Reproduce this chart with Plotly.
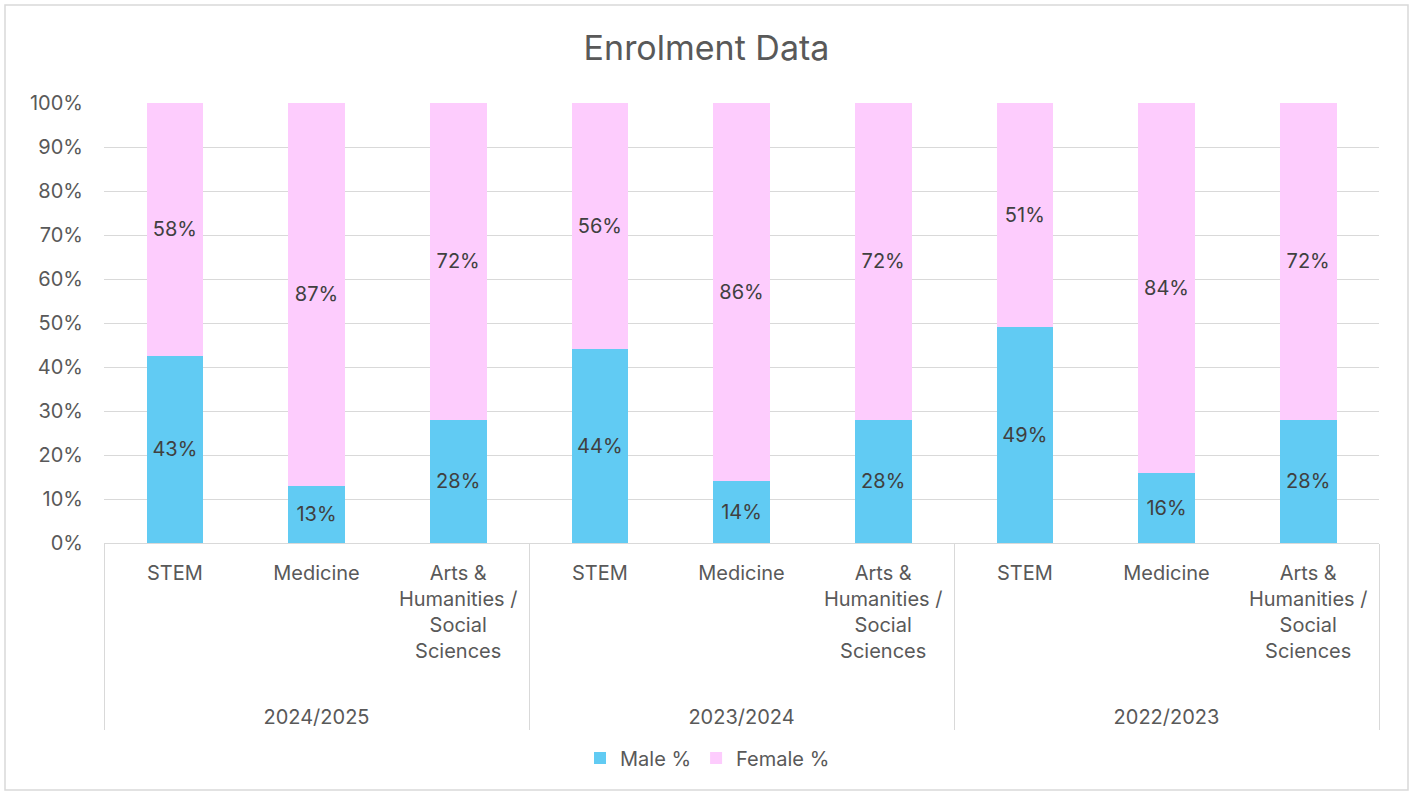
import plotly.graph_objects as go

years = ["2024/2025"] * 3 + ["2023/2024"] * 3 + ["2022/2023"] * 3
subjects = ["STEM", "Medicine", "Arts &<br>Humanities /<br>Social<br>Sciences"] * 3
male_pct = [43, 13, 28, 44, 14, 28, 49, 16, 28]
female_pct = [58, 87, 72, 56, 86, 72, 51, 84, 72]

# display labels for the outer (year) level, pushed down
year_labels = ["<br><br>" + y for y in years]

male_color = "#61CBF3"
female_color = "#FDCCFD"
text_color = "#404040"
axis_text = "#595959"
font_family = "Inter, 'Open Sans', sans-serif"
FS = 20

fig = go.Figure()
fig.add_trace(go.Bar(
    x=[year_labels, subjects], y=male_pct, name="Male %",
    marker=dict(color=male_color, line=dict(width=0)),
    text=[f"{v}%" for v in male_pct], textposition="inside",
    insidetextanchor="middle", textangle=0,
    textfont=dict(size=FS, color=text_color, family=font_family),
))
fig.add_trace(go.Bar(
    x=[year_labels, subjects], y=female_pct, name="Female %",
    marker=dict(color=female_color, line=dict(width=0)),
    text=[f"{v}%" for v in female_pct], textposition="inside",
    insidetextanchor="middle", textangle=0,
    textfont=dict(size=FS, color=text_color, family=font_family),
))

L, R, T, B = 104, 34, 103, 251
W, H = 1413, 794
pw, ph = W - L - R, H - T - B

fig.update_layout(
    width=W, height=H,
    barmode="stack", barnorm="percent", bargap=0.6,
    margin=dict(l=L, r=R, t=T, b=B, autoexpand=False),
    paper_bgcolor="white", plot_bgcolor="white",
    font=dict(family=font_family, color=axis_text, size=FS),
    title=dict(text="Enrolment Data", x=0.5, xanchor="center",
               y=1 - 48 / H, yanchor="middle",
               font=dict(size=34, color=axis_text, family=font_family)),
    legend=dict(orientation="h", x=0.5 - 34 / pw, xanchor="center",
                y=(T + ph - 758) / ph, yref="paper", yanchor="middle",
                traceorder="normal",
                font=dict(size=FS, color=axis_text, family=font_family),
                itemwidth=30, tracegroupgap=0),
    showlegend=True,
    xaxis=dict(type="multicategory", showgrid=False,
               showline=True, linecolor="#D9D9D9", linewidth=1,
               showdividers=True, dividercolor="#D9D9D9", dividerwidth=1,
               tickfont=dict(size=FS, color=axis_text, family=font_family),
               ticklabelstandoff=12,
               ticks=""),
    yaxis=dict(range=[0, 100], dtick=10, ticksuffix="%",
               showgrid=True, gridcolor="#D9D9D9", gridwidth=1,
               zeroline=False, showline=False, ticks="",
               ticklabelstandoff=20,
               tickfont=dict(size=FS, color=axis_text, family=font_family)),
)

# outer chart border
fig.add_shape(type="rect", xref="paper", yref="paper",
              x0=(5 - L) / pw, x1=(1408 - L) / pw,
              y0=(T + ph - 790) / ph, y1=(T + ph - 5) / ph,
              line=dict(color="#D9D9D9", width=1.5), fillcolor="rgba(0,0,0,0)",
              layer="below")

fig.write_html("out.html", config={"displayModeBar": False},
               post_script="document.body.style.margin='0';document.body.style.overflow='hidden';")
